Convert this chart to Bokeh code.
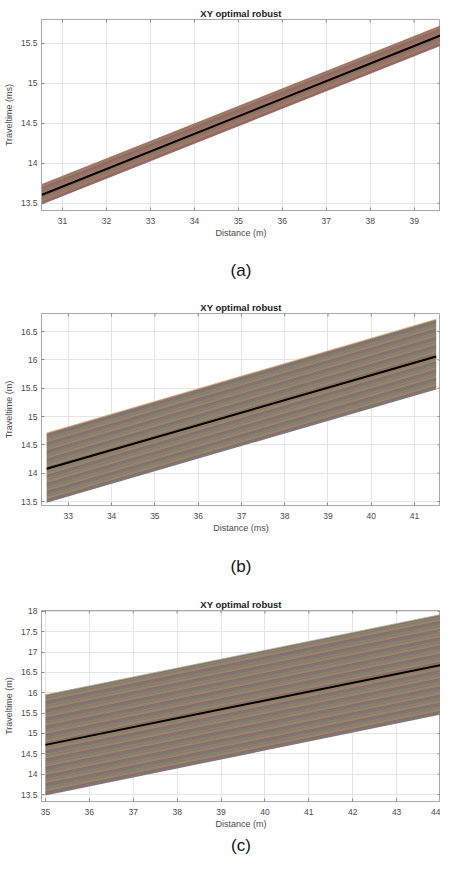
import numpy as np
from bokeh.plotting import figure
from bokeh.layouts import column
from bokeh.models import Title, FixedTicker, CustomJSTickFormatter, Range1d
from bokeh.embed import file_html
from bokeh.resources import INLINE

title_text = "XY optimal robust"
captions = ["(a)", "(b)", "(c)"]
x_labels = ["Distance (m)", "Distance (ms)", "Distance (m)"]
y_labels = ["Traveltime (ms)", "Traveltime (m)", "Traveltime (m)"]

# Panel (a)
a_x = [30.5, 39.6]
a_center = [13.60, 15.60]
a_upper = [13.73, 15.72]
a_lower = [13.48, 15.47]
a_xticks = [31, 32, 33, 34, 35, 36, 37, 38, 39]
a_yticks = [13.5, 14, 14.5, 15, 15.5]
a_xrange = [30.52, 39.6]
a_yrange = [13.41, 15.80]

# Panel (b)
b_x = [32.5, 41.5]
b_center = [14.08, 16.06]
b_upper = [14.71, 16.72]
b_lower = [13.48, 15.48]
b_xticks = [33, 34, 35, 36, 37, 38, 39, 40, 41]
b_yticks = [13.5, 14, 14.5, 15, 15.5, 16, 16.5]
b_xrange = [32.38, 41.6]
b_yrange = [13.43, 16.82]

# Panel (c)
c_x = [35.0, 44.0]
c_center = [14.72, 16.68]
c_upper = [15.95, 17.92]
c_lower = [13.48, 15.46]
c_xticks = [35, 36, 37, 38, 39, 40, 41, 42, 43, 44]
c_yticks = [13.5, 14, 14.5, 15, 15.5, 16, 16.5, 17, 17.5, 18]
c_xrange = [34.91, 44.0]
c_yrange = [13.33, 18.02]

matlab = ['#0072BD', '#D95319', '#EDB120', '#7E2F8E', '#77AC30', '#4DBEEE', '#A2142F']

FONT = "Liberation Sans"
TXT = "#4a4a4a"
BOX = "#a8a8a8"
TICK = "#8a8a8a"

fmt = CustomJSTickFormatter(code="return String(Math.round(tick*10)/10);")


def style_axis(ax):
    ax.major_tick_in = 3
    ax.major_tick_out = 0
    ax.minor_tick_line_color = None
    ax.axis_line_color = BOX
    ax.major_tick_line_color = TICK
    ax.major_label_text_font = FONT
    ax.major_label_text_font_size = "8.5px"
    ax.major_label_text_color = TXT
    ax.axis_label_text_font = FONT
    ax.axis_label_text_font_size = "9px"
    ax.axis_label_text_font_style = "normal"
    ax.axis_label_text_color = TXT
    ax.formatter = fmt


def make_panel(idx, xs, center, upper, lower, xticks, yticks, xr, yr,
               height, top, bottom, base_fill, n_stripes, stripe_alpha, cap_standoff,
               edge_color):
    p = figure(width=440, height=height, x_range=Range1d(*xr), y_range=Range1d(*yr),
               output_backend="svg", toolbar_location=None,
               min_border_left=33, min_border_right=0,
               min_border_top=top, min_border_bottom=bottom)
    p.title = Title(text=title_text, align="center", text_font=FONT,
                    text_font_size="9.5px", text_font_style="bold",
                    text_color="#1a1a1a", standoff=1)
    p.background_fill_color = "white"
    p.border_fill_color = "white"
    p.outline_line_color = BOX

    style_axis(p.xaxis[0])
    style_axis(p.yaxis[0])
    p.xaxis.ticker = FixedTicker(ticks=xticks)
    p.yaxis.ticker = FixedTicker(ticks=yticks)
    p.xaxis.axis_label = x_labels[idx]
    p.yaxis.axis_label = y_labels[idx]
    p.xaxis.major_label_standoff = 7
    p.yaxis.major_label_standoff = 4
    p.xaxis.axis_label_standoff = 1
    p.yaxis.axis_label_standoff = 4

    p.xgrid.grid_line_color = "#e4e4e4"
    p.ygrid.grid_line_color = "#e4e4e4"

    # band base
    p.varea(x=xs, y1=lower, y2=upper, fill_color=base_fill, fill_alpha=1.0)
    # stripe texture made of many thin coloured lines across the band
    fr = np.linspace(0.01, 0.99, n_stripes)
    xl, yl, cl = [], [], []
    for k, f in enumerate(fr):
        xl.append(list(xs))
        yl.append([lower[0] + f * (upper[0] - lower[0]), lower[1] + f * (upper[1] - lower[1])])
        cl.append(matlab[(k * 3) % len(matlab)])
    p.multi_line(xs=xl, ys=yl, line_color=cl, line_alpha=stripe_alpha, line_width=1)
    # lighter top edge of the band
    p.line(xs, upper, line_color=edge_color, line_alpha=0.7, line_width=1)
    # central optimal line
    p.line(xs, center, line_color="black", line_width=2)

    # box tick marks on the top and right edges (half clipped by the frame -> inward ticks)
    p.scatter(x=xticks, y=[yr[1]] * len(xticks), marker="dash", size=6,
              angle=np.pi / 2, line_color=TICK, line_width=1)
    p.scatter(x=[xr[1]] * len(yticks), y=yticks, marker="dash", size=6,
              line_color=TICK, line_width=1)

    p.add_layout(Title(text=captions[idx], align="center", text_font=FONT,
                       text_font_size="17px", text_font_style="normal",
                       text_color="#111111", standoff=cap_standoff), "below")
    return p


pa = make_panel(0, a_x, a_center, a_upper, a_lower, a_xticks, a_yticks, a_xrange, a_yrange,
                299, 19, 89, "#9b7464", 20, 0.16, 36, "#a27060")
pb = make_panel(1, b_x, b_center, b_upper, b_lower, b_xticks, b_yticks, b_xrange, b_yrange,
                297, 13, 91, "#8c7f70", 60, 0.2, 38, "#c9b48c")
pc = make_panel(2, c_x, c_center, c_upper, c_lower, c_xticks, c_yticks, c_xrange, c_yrange,
                263, 13, 58, "#8d7e70", 85, 0.2, 5, "#b8a488")

layout = column(pa, pb, pc, spacing=0)
open("out.html", "w").write(file_html(layout, INLINE))
